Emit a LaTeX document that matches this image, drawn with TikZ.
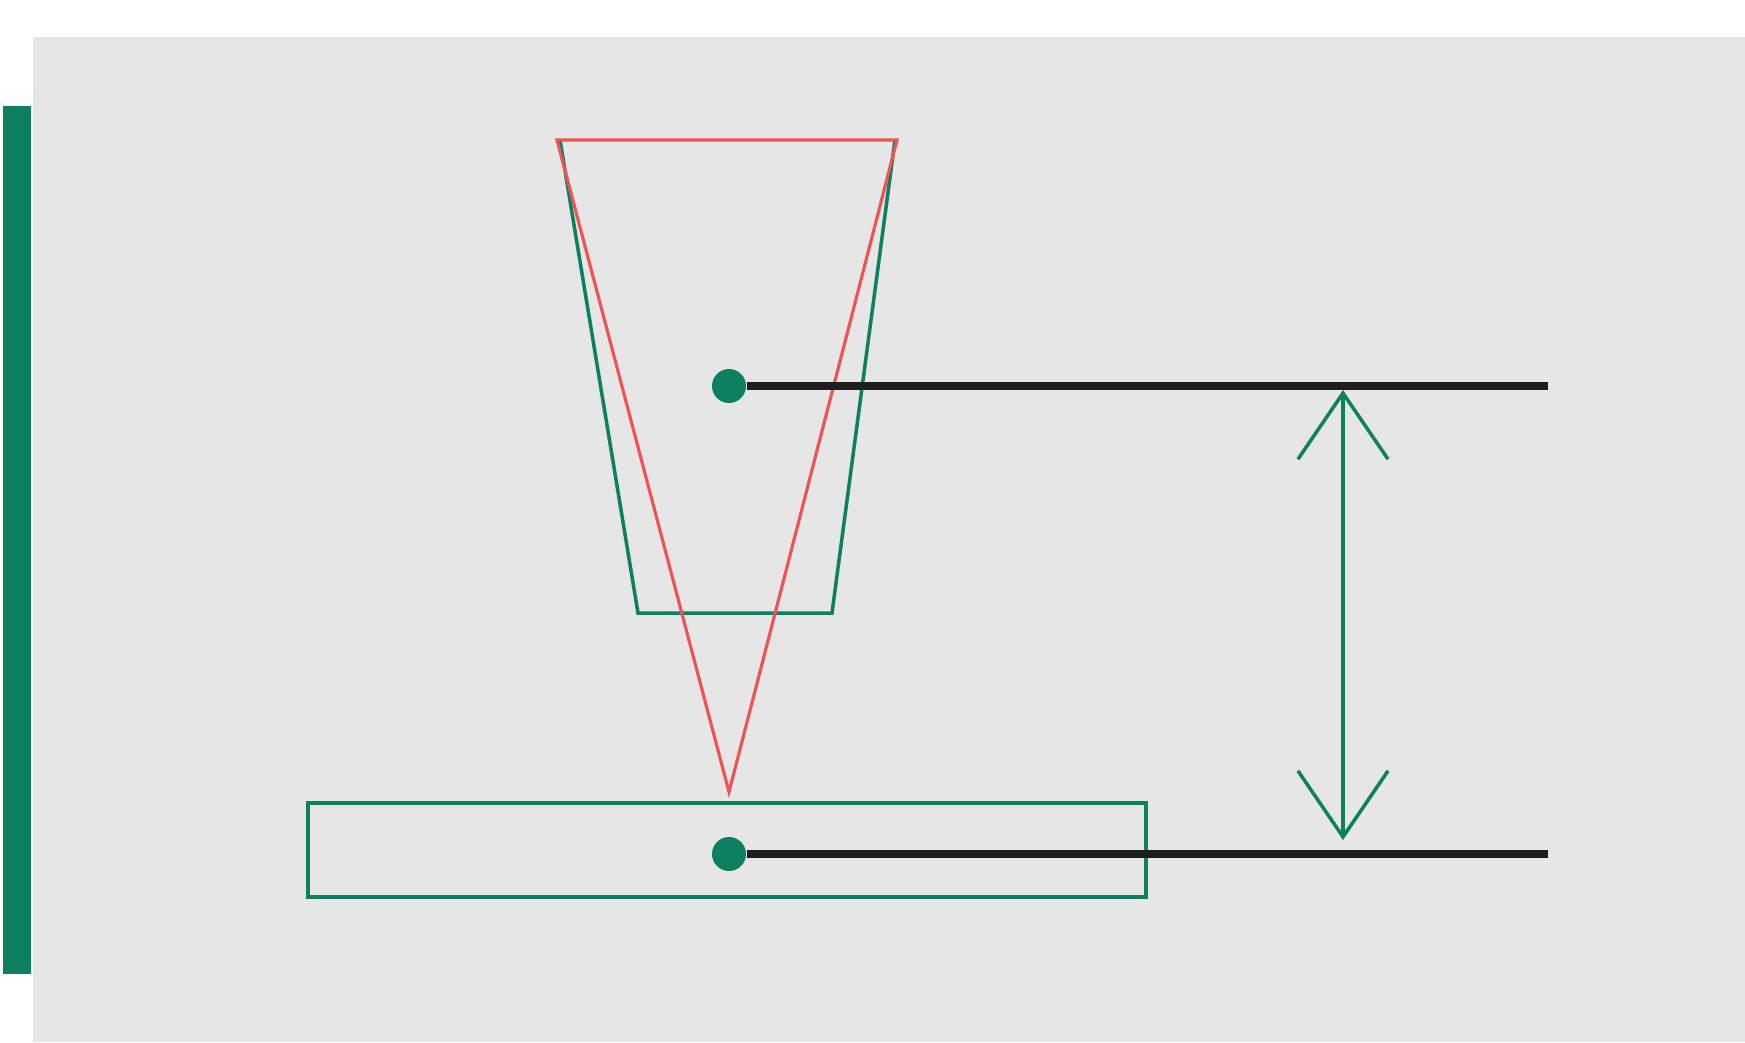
\documentclass[tikz,border=0pt]{standalone}
\usetikzlibrary{arrows.meta,positioning}
\definecolor{panelgray}{RGB}{230,230,230}
\definecolor{tipgreen}{RGB}{12,128,96}
\definecolor{conered}{RGB}{238,84,84}
\definecolor{levelblack}{RGB}{30,30,30}

\begin{document}
\begin{tikzpicture}[x=0.01cm, y=-0.01cm,
  outline/.style={draw=tipgreen, line width=1pt},
  beam/.style={draw=conered, line width=0.9pt},
  levelline/.style={draw=levelblack, line width=2pt},
  pivot/.style={circle, fill=tipgreen, inner sep=0pt, minimum size=0.34cm},
  gaparrow/.style={draw=tipgreen, line width=1pt,
    {Straight Barb[length=0.66cm,width=0.9cm]}-{Straight Barb[length=0.66cm,width=0.9cm]}}]
  \useasboundingbox (0,0) rectangle (1745,1042);
  \fill[white] (0,0) rectangle (1745,1042);
  \fill[panelgray] (33,37) rectangle (1745,1042);
  \fill[tipgreen] (3,106) rectangle (31,974);
  % tip outline and beam
  \draw[outline] (560,140) -- (638,613) -- (832,613) -- (895,140);
  \draw[beam] (729,792) -- (557,140) -- (897,140) -- cycle;
  % sample plate
  \node[outline, rectangle, minimum width=8.38cm, minimum height=0.94cm, inner sep=0pt] (plate) at (727,850) {};
  % pivots and levels
  \node[pivot] (tip) at (729,386) {};
  \node[pivot] (spot) at (729,854) {};
  \coordinate (tipend) at (1548,386);
  \coordinate (spotend) at (1548,854);
  \draw[levelline] (tip) -- (tipend);
  \draw[levelline] (spot) -- (spotend);
  \coordinate (gaptop) at (1343,390);
  \coordinate (gapbot) at (1343,840);
  \draw[gaparrow] (gaptop) -- (gapbot);
\end{tikzpicture}
\end{document}
